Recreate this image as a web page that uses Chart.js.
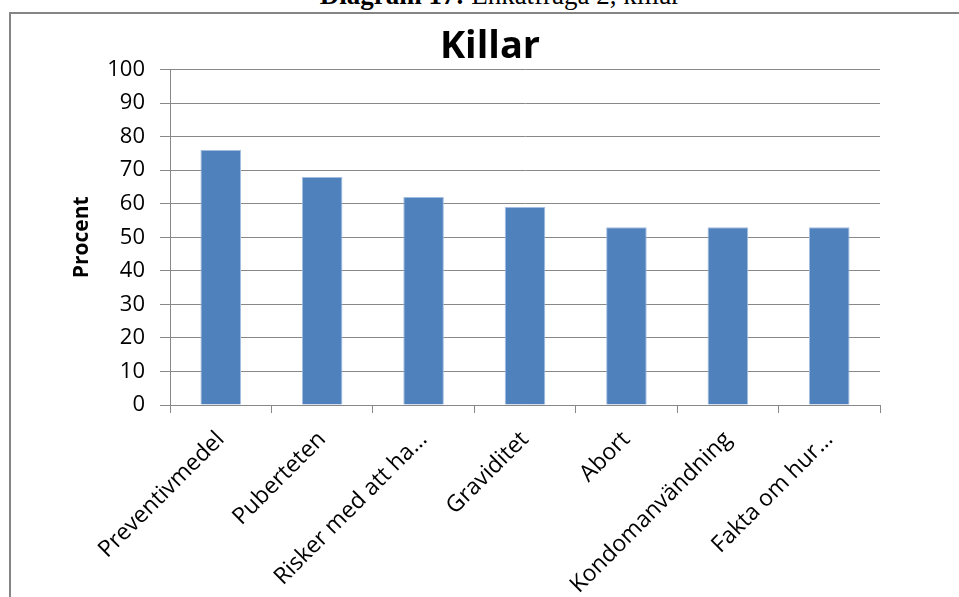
<!DOCTYPE html>
<html>
<head>
<meta charset="utf-8">
<script src="https://cdn.jsdelivr.net/npm/chart.js@4.4.1/dist/chart.umd.min.js"></script>
<style>
    html, body { margin: 0; padding: 0; background: #fff; overflow: hidden; }
    #wrap { position: relative; width: 959px; height: 597px; overflow: hidden; }
    #frame {
        position: absolute; left: 9px; top: 12px; width: 990px; height: 640px;
        border: 2px solid #858585; box-sizing: border-box;
    }
    #caption {
        position: absolute; left: 0; top: -18px; width: 1000px; text-align: center;
        font-family: "Liberation Serif", serif; font-size: 27px; line-height: 27px;
        color: #000; white-space: nowrap;
    }
    #chartBox { position: absolute; left: 0; top: 0; width: 959px; height: 597px; }
</style>
</head>
<body>
<div id="wrap">
    <div id="caption"><b>Diagram 17:</b> Enkätfråga 2, killar</div>
    <div id="frame"></div>
    <div id="chartBox"><canvas id="killarChart" width="959" height="597"></canvas></div>
</div>
<script>
const categories = ['Preventivmedel', 'Puberteten', 'Risker med att ha…', 'Graviditet', 'Abort', 'Kondomanvändning', 'Fakta om hur…'];
const percentValues = [76, 68, 62, 59, 53, 53, 53];
const yTicks = [0, 10, 20, 30, 40, 50, 60, 70, 80, 90, 100];

document.addEventListener('DOMContentLoaded', () => {
    const ctx = document.getElementById('killarChart').getContext('2d');
    new Chart(ctx, {
        type: 'bar',
        data: {
            labels: categories,
            datasets: [{
                label: 'Procent',
                data: percentValues,
                backgroundColor: '#4f81bd',
                borderColor: '#a3bde0',
                borderWidth: 1,
                barPercentage: 1,
                categoryPercentage: 0.4
            }]
        },
        options: {
            responsive: false,
            animation: false,
            layout: {
                // left padding keeps the title centred over the plot like the original
                padding: { top: 24, left: 100, right: 79, bottom: 0 }
            },
            plugins: {
                legend: { display: false },
                tooltip: { enabled: false },
                title: {
                    display: true,
                    text: 'Killar',
                    color: '#000',
                    font: { family: 'Open Sans', size: 38, weight: 'bold', lineHeight: 1.2 },
                    padding: { top: 0, bottom: 0 }
                }
            },
            scales: {
                y: {
                    min: 0,
                    max: 100,
                    afterBuildTicks: scale => {
                        scale.ticks = yTicks.map(v => ({ value: v }));
                    },
                    afterFit: scale => { scale.width = 70; },
                    ticks: {
                        color: '#000',
                        padding: 15,
                        font: { family: 'Open Sans', size: 22 }
                    },
                    grid: {
                        color: '#888888',
                        lineWidth: 1,
                        tickLength: 10
                    },
                    border: { display: true, color: '#888888', width: 1 },
                    title: {
                        display: true,
                        text: 'Procent',
                        color: '#000',
                        font: { family: 'Open Sans', size: 21, weight: 'bold', lineHeight: 1.2 },
                        padding: { top: -30.6, bottom: 0 }
                    }
                },
                x: {
                    afterFit: scale => { scale.height = 192; },
                    ticks: {
                        color: '#000',
                        maxRotation: 45,
                        minRotation: 45,
                        autoSkip: false,
                        padding: 13,
                        font: { family: 'Open Sans', size: 23 }
                    },
                    grid: {
                        drawOnChartArea: false,
                        drawTicks: true,
                        tickLength: 8,
                        color: '#888888'
                    },
                    border: { display: true, color: '#888888', width: 1 }
                }
            }
        }
    });
});
</script>
</body>
</html>
